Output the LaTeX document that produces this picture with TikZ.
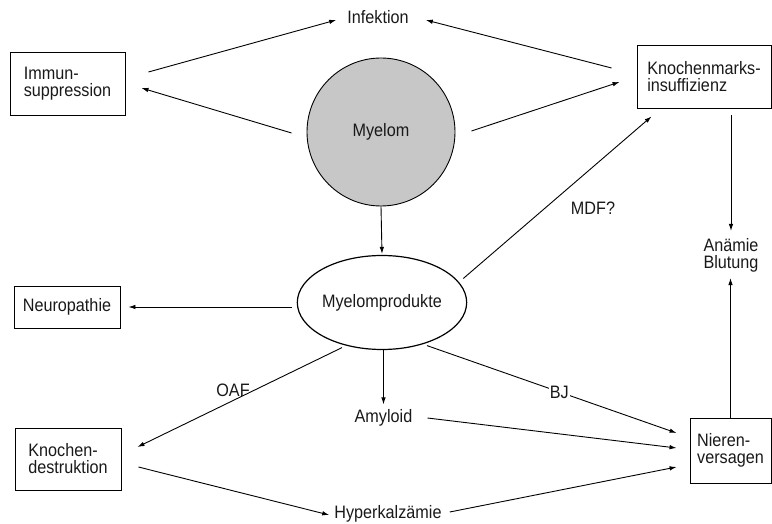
\documentclass[tikz,border=0pt]{standalone}
\usepackage{fontspec}
\setmainfont{Liberation Sans}[FakeStretch=0.9]
\usetikzlibrary{arrows.meta,shapes.geometric}
\tikzset{
  txt/.style={inner sep=0pt, align=center, font=\fontsize{18}{17}\selectfont, text=black!90},
  kasten/.style={txt, draw, line width=0.9pt, align=left},
  arr/.style={line width=0.9pt, -{Latex[length=7pt,width=4.5pt]}},
}
\begin{document}
\begin{tikzpicture}[x=1pt,y=1pt,yscale=-1]
\useasboundingbox (0,0) rectangle (772,524);

\node[kasten, minimum width=115, minimum height=63] (immun) at (67.5,83.5) {Immun-\\suppression};
\node[kasten, minimum width=134, minimum height=63] (kmi) at (704,76.5) {Knochenmarks-\\insuffizienz};
\node[kasten, minimum width=106, minimum height=42] (neuro) at (67,307) {Neuropathie};
\node[kasten, minimum width=106, minimum height=62] (kd) at (68,459) {Knochen-\\destruktion};
\node[kasten, minimum width=81, minimum height=65] (nieren) at (730.5,450.5) {Nieren-\\versagen};

\node[txt, circle, draw, line width=0.9pt, fill=black!22, minimum size=148] (myelom) at (381,132) {Myelom};
\node[txt, ellipse, draw, line width=1.2pt, minimum width=150, minimum height=94] (prod) at (382,302.5) {Myelomprodukte};

\node[txt] (inf) at (378,17) {Infektion};
\node[txt] (anb) at (731,255) {Anämie\\Blutung};
\node[txt] (amy) at (383.5,418) {Amyloid};
\node[txt] (hyp) at (388,514) {Hyperkalzämie};

\node[txt] (mdf) at (593,208) {MDF?};
\node[txt] (oaf) at (233,390) {OAF};

\draw[arr] ([shift={(23,-11.5)}]immun.east) -- ([shift={(-11,3)}]inf.west);
\draw[arr] ([shift={(-15,1)}]myelom.west) -- ([shift={(16,4.5)}]immun.east);
\draw[arr] ([shift={(-25,-8.5)}]kmi.west) -- ([shift={(17,3)}]inf.east);
\draw[arr] ([shift={(16,-1)}]myelom.east) -- ([shift={(-17,5.5)}]kmi.west);
\draw[arr] ([shift={(-4,-24)}]prod.east) -- ([shift={(15,8)}]kmi.south west);
\draw[arr] ([yshift=7pt]kmi.south -| anb.north) -- ([yshift=-7pt]anb.north);
\draw[arr] (nieren.north) -- ([yshift=6pt]nieren.north |- anb.south);

\draw[arr] (myelom.south) -- ([yshift=-1pt]prod.north);
\draw[arr] ([shift={(-5,4.5)}]prod.west) -- ([shift={(8,0)}]neuro.east);
\draw[arr] ([shift={(-40,-2.5)}]prod.south) -- ([shift={(16,-12)}]kd.east);
\draw[arr] (prod.south -| amy.north) -- ([yshift=-5pt]amy.north);
\draw[arr] ([shift={(45,-4.5)}]prod.south) -- node[txt, fill=white, inner sep=1pt, pos=0.53] (bj) {BJ} ([shift={(-13,-17.5)}]nieren.west);
\draw[arr] ([shift={(15,0)}]amy.east) -- ([shift={(-13,-2.5)}]nieren.west);
\draw[arr] ([shift={(8,-2)}]hyp.east) -- ([shift={(-13,16.5)}]nieren.west);
\draw[arr] ([shift={(17,8)}]kd.east) -- ([shift={(-5,1)}]hyp.west);

\end{tikzpicture}
\end{document}
